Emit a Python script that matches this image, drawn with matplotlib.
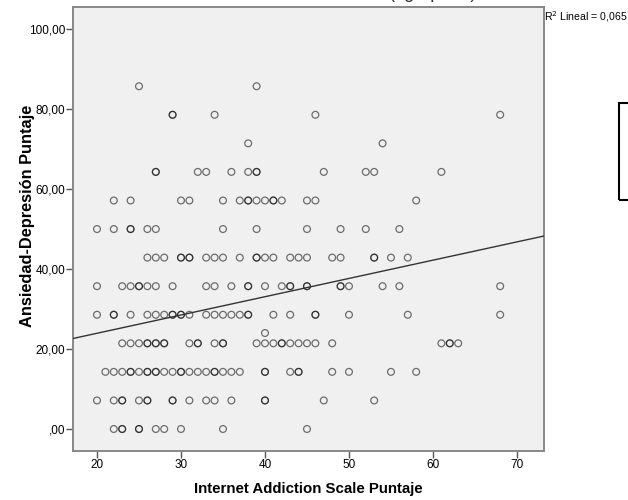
import numpy as np
import matplotlib
matplotlib.use("Agg")
import matplotlib.pyplot as plt
from matplotlib.patches import Rectangle

plt.rcParams['font.family'] = ['Liberation Sans', 'DejaVu Sans']

# Ansiedad-Depresion score levels and Internet Addiction scores at each level
row_0 = [22, 23, 23, 25, 25, 27, 28, 30, 35, 45]
row_7 = [20, 22, 23, 23, 25, 26, 26, 29, 29, 31, 33, 34, 36, 40, 40, 47, 53]
row_14 = [21, 22, 23, 24, 24, 25, 26, 26, 27, 27, 28, 29, 30, 30, 31, 32, 33, 34, 34,
          35, 36, 37, 40, 40, 43, 44, 44, 48, 50, 55, 58]
row_21 = [23, 24, 25, 26, 26, 27, 27, 28, 28, 31, 32, 32, 34, 35, 35, 39, 40, 41, 42, 42,
          43, 44, 45, 46, 48, 61, 62, 62, 63]
row_24 = [40]
row_29 = [20, 22, 22, 24, 26, 27, 28, 29, 29, 30, 30, 31, 33, 34, 35, 36, 37, 38, 38,
          41, 43, 46, 46, 50, 57, 68]
row_36 = [20, 23, 24, 25, 25, 26, 27, 29, 33, 34, 36, 38, 38, 40, 42, 43, 43, 45, 45,
          49, 49, 50, 54, 56, 68]
row_43 = [26, 27, 28, 30, 30, 31, 31, 33, 34, 35, 37, 39, 39, 40, 41, 43, 44, 45, 48,
          49, 53, 53, 55, 57]
row_50 = [20, 22, 24, 24, 26, 27, 35, 39, 45, 49, 52, 56]
row_57 = [22, 24, 30, 31, 35, 37, 38, 38, 39, 40, 41, 41, 42, 45, 46, 58]
row_64 = [27, 27, 32, 33, 36, 38, 39, 39, 47, 52, 53, 61]
row_71 = [38, 54]
row_79 = [29, 29, 34, 46, 68]
row_86 = [25, 39]

levels = [0.0, 7.14, 14.29, 21.43, 24.0, 28.57, 35.71, 42.86, 50.0, 57.14, 64.29, 71.43, 78.57, 85.71]
rows = [row_0, row_7, row_14, row_21, row_24, row_29, row_36, row_43, row_50, row_57,
        row_64, row_71, row_79, row_86]

# Fit line shown in the reference
fit_intercept = 14.8
fit_slope = 0.457

x_ticks = [20, 30, 40, 50, 60, 70]
y_ticks = [0, 20, 40, 60, 80, 100]
y_tick_labels = [",00", "20,00", "40,00", "60,00", "80,00", "100,00"]
r2_text = "R$^2$ Lineal = 0,065"

xs = np.concatenate([np.array(r, dtype=float) for r in rows])
ys = np.concatenate([np.full(len(r), lv) for r, lv in zip(rows, levels)])

fig = plt.figure(figsize=(6.28, 5.0), dpi=100)
ax = fig.add_axes([0.117, 0.098, 0.749, 0.8886])
ax.set_facecolor('#f0f0f0')

ax.scatter(xs, ys, s=24, facecolors='none', edgecolors=(0, 0, 0, 0.55), linewidths=0.9, zorder=3)

ax.axline((0, fit_intercept), slope=fit_slope, color='#333333', lw=1.0, zorder=4)

ax.set_xlim(17.2, 73.2)
ax.set_ylim(-5.5, 105.6)
ax.set_xticks(x_ticks)
ax.set_yticks(y_ticks)
ax.set_yticklabels(y_tick_labels)
ax.tick_params(direction='out', length=5, width=1, color='#555555', labelsize=8.5, pad=1)
for s in ax.spines.values():
    s.set_color('#888888')
    s.set_linewidth(1.4)

ax.set_xlabel('Internet Addiction Scale Puntaje', fontsize=10.8, fontweight='bold')
ax.set_ylabel('Ansiedad-Depresión Puntaje', fontsize=11.8, fontweight='bold')
ax.xaxis.set_label_coords(0.5, -0.0855)
ax.yaxis.set_label_coords(-0.097, 0.529)
ax.xaxis.label.set_va('center')
ax.yaxis.label.set_va('center')

fig.text(544 / 628, 1 - 17 / 500, r2_text, fontsize=7.6, va='center', ha='left')
fig.text(433 / 628, 1 + 2.5 / 500, '(agrupado)', fontsize=13, va='baseline', ha='center',
         color='#333333')

fig.patches.append(Rectangle((619 / 628, 1 - 200 / 500), 30 / 628, 97 / 500,
                             transform=fig.transFigure, fill=False, edgecolor='black',
                             linewidth=1.5, clip_on=False))

fig.savefig('out.png', dpi=100)
